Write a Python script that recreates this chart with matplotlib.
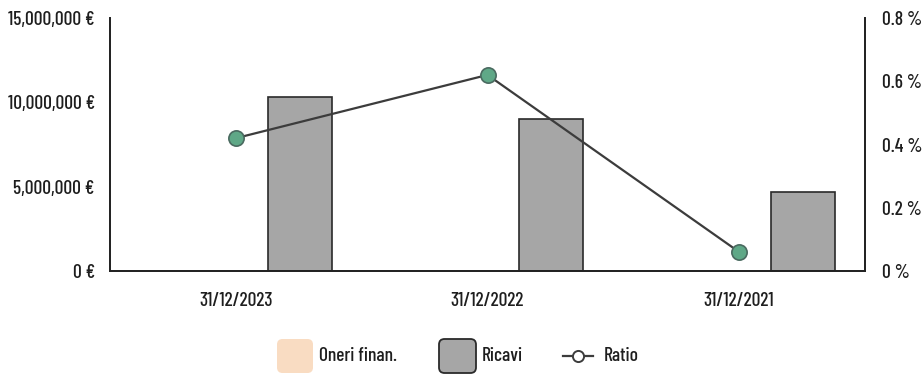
import matplotlib
matplotlib.use("Agg")
import matplotlib.pyplot as plt
from matplotlib.patches import FancyBboxPatch
from matplotlib.lines import Line2D
import numpy as np

# Data
categories = ["31/12/2023", "31/12/2022", "31/12/2021"]
oneri_finan = [0, 0, 0]
ricavi = [10_300_000, 9_000_000, 4_700_000]
ratio = [0.42, 0.62, 0.06]  # percent
left_ticks = [0, 5_000_000, 10_000_000, 15_000_000]
left_labels = ["0 €", "5,000,000 €", "10,000,000 €", "15,000,000 €"]
right_ticks = [0, 0.2, 0.4, 0.6, 0.8]
right_labels = ["0 %", "0.2 %", "0.4 %", "0.6 %", "0.8 %"]
legend_labels = ["Oneri finan.", "Ricavi", "Ratio"]

plt.rcParams["font.family"] = ["Barlow Condensed", "DejaVu Sans"]
plt.rcParams["font.weight"] = "medium"
FS = 14
TXT = "#1e1e1e"

W, H = 924, 382
fig = plt.figure(figsize=(W / 100, H / 100), dpi=100)
ax = fig.add_axes([110 / W, 1 - 271 / H, 755 / W, 253 / H])
ax2 = ax.twinx()

x = np.arange(len(categories))
w = 0.254
bar_grey = "#a6a6a6"
bar_edge = "#2a2a2a"
peach = "#f9dcc2"
line_col = "#3c3c3c"
dot_col = "#5fa887"

ax.bar(x, oneri_finan, width=w, color=peach, zorder=2)
ax.bar(x + w, ricavi, width=w, color=bar_grey, edgecolor=bar_edge,
       linewidth=1.2, zorder=2)

ax.set_xlim(-0.5, len(categories) - 0.5)
ax.set_ylim(0, 15_000_000)
ax.set_yticks(left_ticks)
ax.set_yticklabels(left_labels)
ax.set_xticks(x)
ax.set_xticklabels(categories)

ax2.plot(x, ratio, color=line_col, linewidth=1.6, marker="o", markersize=11,
         markerfacecolor=dot_col, markeredgecolor="#4a6a60",
         markeredgewidth=1.2, zorder=3)
ax2.set_ylim(0, 0.8)
ax2.set_yticks(right_ticks)
ax2.set_yticklabels(right_labels)

for a in (ax, ax2):
    a.spines["top"].set_visible(False)
    for s in ("left", "right", "bottom"):
        a.spines[s].set_color("#222222")
        a.spines[s].set_linewidth(1.3)
    a.tick_params(length=0, labelsize=FS, colors=TXT)
ax.tick_params(axis="y", pad=11)
ax2.tick_params(axis="y", pad=12)
ax.tick_params(axis="x", pad=15)
ax.set_zorder(ax2.get_zorder() - 1)
ax2.patch.set_visible(False)

# Legend row, laid out in figure pixels
def px(xp, yp):
    return xp / W, 1 - yp / H

cy = 356
box_h = 34
for (x0, x1), face, edge, lw in [((277, 313), peach, "none", 0),
                                 ((439, 476), bar_grey, bar_edge, 1.3)]:
    bx, by = px(x0, cy + box_h / 2)
    patch = FancyBboxPatch((bx, by), (x1 - x0) / W, box_h / H,
                           boxstyle="round,pad=0,rounding_size=0.006",
                           facecolor=face, edgecolor=edge, linewidth=lw,
                           transform=fig.transFigure, mutation_aspect=W / H)
    fig.patches.append(patch)

lx0, ly = px(563, cy)
lx1, _ = px(593, cy)
fig.add_artist(Line2D([lx0, lx1], [ly, ly], color=line_col, linewidth=1.6,
                      transform=fig.transFigure))
fig.add_artist(Line2D([(lx0 + lx1) / 2], [ly], marker="o", markersize=8,
                      markerfacecolor="white", markeredgecolor=line_col,
                      markeredgewidth=1.4, transform=fig.transFigure))

for xp, lab in zip([319, 482, 604], legend_labels):
    tx, ty = px(xp, cy)
    fig.text(tx, ty, lab, ha="left", va="center", fontsize=FS, color=TXT)

fig.savefig("out.png", dpi=100)
